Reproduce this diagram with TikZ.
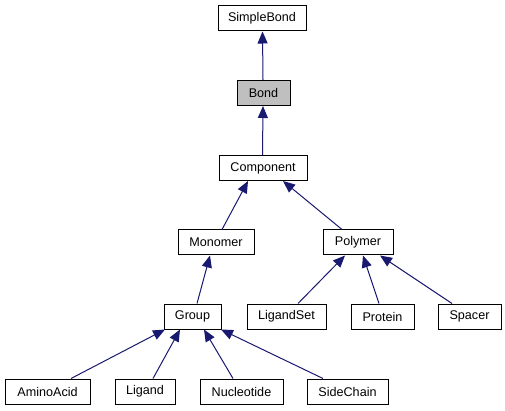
\documentclass[tikz,border=0pt]{standalone}
\usepackage{fontspec}
\setmainfont{Liberation Sans}
\usetikzlibrary{arrows.meta}
\definecolor{edgeblue}{HTML}{191970}
\definecolor{boxgray}{HTML}{BFBFBF}
\tikzset{
  cls/.style={draw=black, line width=1pt, fill=white, inner sep=0pt, minimum height=25pt, font=\fontsize{12.6}{14}\selectfont},
  inh/.style={draw=edgeblue, line width=1pt, -{Triangle[length=12pt,width=10pt]}, color=edgeblue}
}
\begin{document}
\begin{tikzpicture}[x=1pt,y=-1pt]
\useasboundingbox (0,0) rectangle (505,411);
\node[cls, minimum width=88pt] (simplebond) at (262,18.5) {SimpleBond};
\node[cls, minimum width=53pt, fill=boxgray] (bond) at (263.5,93) {Bond};
\node[cls, minimum width=88pt] (component) at (263,168) {Component};
\node[cls, minimum width=76pt] (monomer) at (216,242.5) {Monomer};
\node[cls, minimum width=70pt] (polymer) at (358,242.5) {Polymer};
\node[cls, minimum width=57pt] (group) at (192.5,316.5) {Group};
\node[cls, minimum width=79pt] (ligandset) at (286.5,316.5) {LigandSet};
\node[cls, minimum width=63pt] (protein) at (382.5,316.5) {Protein};
\node[cls, minimum width=63pt] (spacer) at (469.5,316.5) {Spacer};
\node[cls, minimum width=85pt] (aminoacid) at (47.5,391.5) {AminoAcid};
\node[cls, minimum width=60pt] (ligand) at (145,391.5) {Ligand};
\node[cls, minimum width=83pt] (nucleotide) at (241.5,391.5) {Nucleotide};
\node[cls, minimum width=81pt] (sidechain) at (347.5,391.5) {SideChain};

\draw[inh] ([xshift=-0.5pt]bond.north) -- ([xshift=0.5pt]simplebond.south);
\draw[inh] ([xshift=-0.5pt]component.north) -- ([xshift=-0.5pt]bond.south);
\draw[inh] ([xshift=6pt]monomer.north) -- ([xshift=-15pt]component.south);
\draw[inh] ([xshift=-16pt]polymer.north) -- ([xshift=20pt]component.south);
\draw[inh] ([xshift=4.5pt]group.north) -- ([xshift=-6pt]monomer.south);
\draw[inh] ([xshift=11.5pt]ligandset.north) -- ([xshift=-13pt]polymer.south);
\draw[inh] ([xshift=-3.5pt]protein.north) -- ([xshift=5pt]polymer.south);
\draw[inh] ([xshift=-17.5pt]spacer.north) -- ([xshift=22pt]polymer.south);
\draw[inh] ([xshift=23.5pt]aminoacid.north) -- ([xshift=-27.5pt]group.south);
\draw[inh] ([xshift=8pt]ligand.north) -- ([xshift=-12.5pt]group.south);
\draw[inh] ([xshift=-8.5pt]nucleotide.north) -- ([xshift=11.5pt]group.south);
\draw[inh] ([xshift=-24.5pt]sidechain.north) -- ([xshift=28.5pt]group.south);
\end{tikzpicture}
\end{document}
